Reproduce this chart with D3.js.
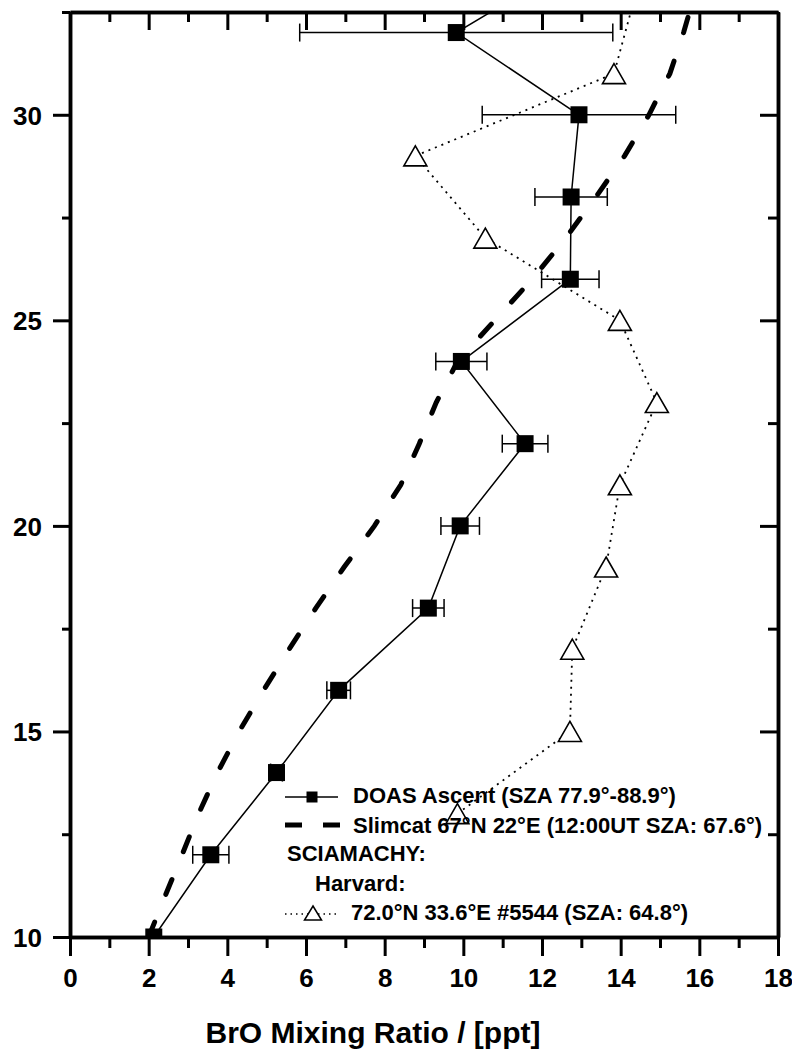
<!DOCTYPE html>
<html>
<head>
<meta charset="utf-8">
<script src="https://cdn.jsdelivr.net/npm/d3@7"></script>
<style>
  html, body { margin: 0; padding: 0; background: #fff; }
  svg { display: block; }
  text { font-family: "Liberation Sans", Arial, sans-serif; font-weight: bold; fill: #000; }
</style>
</head>
<body>
<svg id="chart" width="792" height="1050"></svg>
<script>
// ---------------- DATA ----------------
// DOAS Ascent (altitude km, BrO ppt, +/- error)
const doasAlt = [10, 12, 14, 16, 18, 20, 22, 24, 26, 28, 30, 32, 34];
const doasBrO = [2.13, 3.58, 5.25, 6.83, 9.11, 9.92, 11.57, 9.95, 12.72, 12.74, 12.94, 9.82, 13.33];
const doasErr = [0, 0.46, 0.15, 0.30, 0.40, 0.49, 0.58, 0.65, 0.73, 0.92, 2.46, 3.98, 0];

// Slimcat 67N 22E
const slimAlt = [10, 11, 12, 13, 14, 15, 16, 17, 18, 19, 20, 21, 22, 23, 24, 25, 26, 27, 28, 29, 30, 31, 32, 33];
const slimBrO = [2.0, 2.42, 2.85, 3.27, 3.75, 4.3, 4.92, 5.57, 6.25, 6.97, 7.74, 8.41, 8.88, 9.31, 9.85, 10.8, 11.75, 12.6, 13.37, 14.1, 14.72, 15.25, 15.6, 15.9];

// SCIAMACHY Harvard 72.0N 33.6E #5544
const sciaAlt = [13, 15, 17, 19, 21, 23, 25, 27, 29, 31, 33];
const sciaBrO = [9.85, 12.71, 12.77, 13.63, 13.98, 14.92, 13.98, 10.56, 8.78, 13.83, 14.4];

// Axis ticks
const xMajorTicks = [0, 2, 4, 6, 8, 10, 12, 14, 16, 18];
const xMinorTicks = [1, 3, 5, 7, 9, 11, 13, 15, 17];
const yMajorTicks = [10, 15, 20, 25, 30];
const yMinorTicks = [12.5, 17.5, 22.5, 27.5, 32.5];

const xTitle = "BrO Mixing Ratio / [ppt]";
const legendLabels = [
  "DOAS Ascent (SZA 77.9°-88.9°)",
  "Slimcat 67°N 22°E (12:00UT SZA: 67.6°)",
  "SCIAMACHY:",
  "Harvard:",
  "72.0°N 33.6°E #5544 (SZA: 64.8°)"
];

// ---------------- LAYOUT ----------------
const L = 70, R = 778, T = 12, B = 937;
const svg = d3.select("#chart");
const x = d3.scaleLinear().domain([0, 18]).range([L, R]);
const y = d3.scaleLinear().domain([10, 32.5]).range([B, T]);

svg.append("defs").append("clipPath").attr("id", "plotclip")
  .append("rect").attr("x", L).attr("y", T).attr("width", R - L).attr("height", B - T);

const plot = svg.append("g").attr("clip-path", "url(#plotclip)");

// triangle path (bbox-centred)
function triPath(w, h) {
  return `M0,${-h / 2}L${w / 2},${h / 2}L${-w / 2},${h / 2}Z`;
}

// Slimcat dashed
const slim = slimAlt.map((a, i) => ({ a, v: slimBrO[i] }));
plot.append("path").datum(slim)
  .attr("d", d3.line().x(d => x(d.v)).y(d => y(d.a)))
  .attr("fill", "none").attr("stroke", "#000").attr("stroke-width", 5)
  .attr("stroke-dasharray", "16,30").attr("stroke-linecap", "round");

// SCIAMACHY dotted line
const scia = sciaAlt.map((a, i) => ({ a, v: sciaBrO[i] }));
plot.append("path").datum(scia)
  .attr("d", d3.line().x(d => x(d.v)).y(d => y(d.a)))
  .attr("fill", "none").attr("stroke", "#000").attr("stroke-width", 1.8)
  .attr("stroke-dasharray", "2,5");
plot.selectAll(".tri").data(scia).enter().append("path")
  .attr("class", "tri")
  .attr("transform", d => `translate(${x(d.v)},${y(d.a)})`)
  .attr("d", triPath(23, 20))
  .attr("fill", "#fff").attr("stroke", "#000").attr("stroke-width", 1.6);

// DOAS line
const doas = doasAlt.map((a, i) => ({ a, v: doasBrO[i], e: doasErr[i] }));
plot.append("path").datum(doas)
  .attr("d", d3.line().x(d => x(d.v)).y(d => y(d.a)))
  .attr("fill", "none").attr("stroke", "#000").attr("stroke-width", 1.5);

// error bars
const eb = plot.selectAll(".eb").data(doas.filter(d => d.e > 0)).enter().append("g").attr("class", "eb")
  .attr("stroke", "#000").attr("stroke-width", 1.5);
eb.append("line").attr("x1", d => x(d.v - d.e)).attr("x2", d => x(d.v + d.e))
  .attr("y1", d => y(d.a)).attr("y2", d => y(d.a));
eb.append("line").attr("x1", d => x(d.v - d.e)).attr("x2", d => x(d.v - d.e))
  .attr("y1", d => y(d.a) - 9).attr("y2", d => y(d.a) + 9);
eb.append("line").attr("x1", d => x(d.v + d.e)).attr("x2", d => x(d.v + d.e))
  .attr("y1", d => y(d.a) - 9).attr("y2", d => y(d.a) + 9);

// squares
plot.selectAll(".sq").data(doas).enter().append("rect").attr("class", "sq")
  .attr("x", d => x(d.v) - 8.5).attr("y", d => y(d.a) - 8.5)
  .attr("width", 17).attr("height", 17).attr("fill", "#000");

// ---------------- AXES ----------------
function styleAxis(g, width) {
  g.select(".domain").attr("stroke-width", 3.5).attr("stroke", "#000");
  g.selectAll(".tick line").attr("stroke-width", 3).attr("stroke", "#000");
}
// bottom
const gb = svg.append("g").attr("transform", `translate(0,${B})`)
  .call(d3.axisBottom(x).tickValues(xMajorTicks).tickSize(19).tickSizeOuter(0).tickFormat(d3.format("d")));
styleAxis(gb);
gb.selectAll(".tick text").attr("y", 50).attr("dy", 0).style("font-size", "26px")
  .attr("font-family", null).attr("font-size", null);
const gbm = svg.append("g").attr("transform", `translate(0,${B})`)
  .call(d3.axisBottom(x).tickValues(xMinorTicks).tickSize(11).tickSizeOuter(0).tickFormat(""));
styleAxis(gbm);
// top (inward)
const gt = svg.append("g").attr("transform", `translate(0,${T})`)
  .call(d3.axisBottom(x).tickValues(xMajorTicks).tickSize(18).tickSizeOuter(0).tickFormat(""));
styleAxis(gt);
const gtm = svg.append("g").attr("transform", `translate(0,${T})`)
  .call(d3.axisBottom(x).tickValues(xMinorTicks).tickSize(10).tickSizeOuter(0).tickFormat(""));
styleAxis(gtm);
// left
const gl = svg.append("g").attr("transform", `translate(${L},0)`)
  .call(d3.axisLeft(y).tickValues(yMajorTicks).tickSize(17).tickPadding(11).tickSizeOuter(0).tickFormat(d3.format("d")));
styleAxis(gl);
gl.selectAll(".tick text").attr("dy", "0.36em").style("font-size", "26px")
  .attr("font-family", null).attr("font-size", null);
const glm = svg.append("g").attr("transform", `translate(${L},0)`)
  .call(d3.axisLeft(y).tickValues(yMinorTicks).tickSize(8).tickSizeOuter(0).tickFormat(""));
styleAxis(glm);
// right (inward)
const gr = svg.append("g").attr("transform", `translate(${R},0)`)
  .call(d3.axisLeft(y).tickValues(yMajorTicks).tickSize(18).tickSizeOuter(0).tickFormat(""));
styleAxis(gr);
const grm = svg.append("g").attr("transform", `translate(${R},0)`)
  .call(d3.axisLeft(y).tickValues(yMinorTicks).tickSize(10).tickSizeOuter(0).tickFormat(""));
styleAxis(grm);

// axis title
svg.append("text").attr("x", 373).attr("y", 1043).attr("text-anchor", "middle")
  .style("font-size", "30px").text(xTitle);

// ---------------- LEGEND ----------------
const lg = svg.append("g");
const fs = "22px";
// row 1
lg.append("line").attr("x1", 285).attr("x2", 338).attr("y1", 797).attr("y2", 797)
  .attr("stroke", "#000").attr("stroke-width", 1.5);
lg.append("rect").attr("x", 306.5).attr("y", 791.5).attr("width", 11).attr("height", 11).attr("fill", "#000");
lg.append("text").attr("x", 353).attr("y", 803).style("font-size", fs).text(legendLabels[0]);
// row 2
lg.append("line").attr("x1", 285).attr("x2", 340).attr("y1", 825).attr("y2", 825)
  .attr("stroke", "#000").attr("stroke-width", 5).attr("stroke-dasharray", "17,21");
lg.append("text").attr("x", 353).attr("y", 833).style("font-size", fs).text(legendLabels[1]);
// row 3, 4
lg.append("text").attr("x", 287).attr("y", 861).style("font-size", fs).text(legendLabels[2]);
lg.append("text").attr("x", 315).attr("y", 891).style("font-size", fs).text(legendLabels[3]);
// row 5
lg.append("line").attr("x1", 285).attr("x2", 338).attr("y1", 914).attr("y2", 914)
  .attr("stroke", "#000").attr("stroke-width", 1.5).attr("stroke-dasharray", "1.5,4");
lg.append("path").attr("transform", "translate(313,913)").attr("d", triPath(17, 14))
  .attr("fill", "#fff").attr("stroke", "#000").attr("stroke-width", 1.5);
lg.append("text").attr("x", 351).attr("y", 920).style("font-size", fs).text(legendLabels[4]);
</script>
</body>
</html>
